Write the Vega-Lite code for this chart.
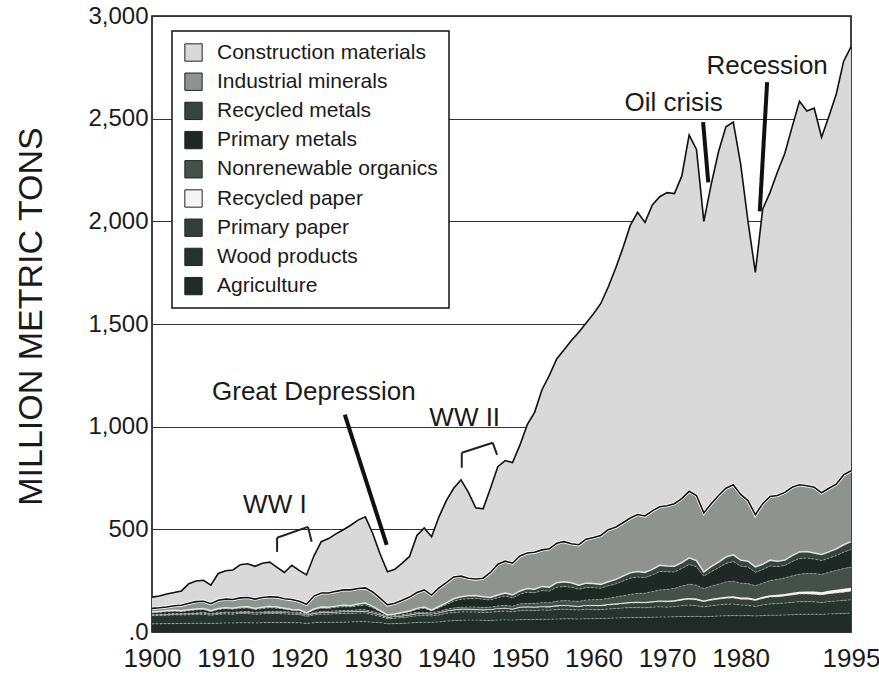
{
"$schema": "https://vega.github.io/schema/vega-lite/v6.json",
"width": 699, "height": 616,
"autosize": {"type": "none"},
"padding": {"left": 152, "top": 16, "right": 28, "bottom": 53},
"background": "white",
"config": {
  "view": {"stroke": "#111", "strokeWidth": 1.6},
  "font": "Liberation Sans",
  "axis": {"labelFont": "Liberation Sans", "labelColor": "#1a1a1a", "titleColor": "#1a1a1a", "ticks": false, "domain": false},
  "legend": {"orient": "none", "legendX": 20, "legendY": 15, "direction": "vertical",
    "fillColor": "white", "strokeColor": "#111", "strokeWidth": 1.5, "padding": 11,
    "labelFont": "Liberation Sans", "labelFontSize": 21, "labelColor": "#1a1a1a", "labelLimit": 400,
    "symbolType": "square", "symbolSize": 300, "symbolStrokeColor": "#222", "symbolStrokeWidth": 1,
    "rowPadding": 6.2, "labelOffset": 13}
},
"datasets": {
  "main": [
    {"year":1900,"ag":40,"wd":40,"pp":3,"rp":1,"no":2,"pm":9,"rm":3,"im":17,"cm":55},
    {"year":1901,"ag":40,"wd":40,"pp":3,"rp":1,"no":2,"pm":10,"rm":4,"im":18,"cm":57},
    {"year":1902,"ag":41,"wd":41,"pp":3,"rp":1,"no":2,"pm":11,"rm":4,"im":19,"cm":63},
    {"year":1903,"ag":41,"wd":42,"pp":4,"rp":1,"no":2,"pm":12,"rm":4,"im":22,"cm":64},
    {"year":1904,"ag":42,"wd":41,"pp":4,"rp":1,"no":2,"pm":10,"rm":4,"im":26,"cm":70},
    {"year":1905,"ag":42,"wd":42,"pp":4,"rp":1,"no":2,"pm":13,"rm":4,"im":32,"cm":95},
    {"year":1906,"ag":43,"wd":43,"pp":4,"rp":1,"no":2,"pm":14,"rm":5,"im":36,"cm":100},
    {"year":1907,"ag":43,"wd":44,"pp":5,"rp":1,"no":3,"pm":13,"rm":5,"im":36,"cm":102},
    {"year":1908,"ag":42,"wd":40,"pp":4,"rp":1,"no":3,"pm":10,"rm":4,"im":34,"cm":90},
    {"year":1909,"ag":43,"wd":43,"pp":5,"rp":1,"no":3,"pm":14,"rm":5,"im":41,"cm":130},
    {"year":1910,"ag":44,"wd":44,"pp":5,"rp":1,"no":3,"pm":16,"rm":5,"im":42,"cm":138},
    {"year":1911,"ag":44,"wd":43,"pp":5,"rp":1,"no":3,"pm":15,"rm":5,"im":42,"cm":144},
    {"year":1912,"ag":45,"wd":45,"pp":5,"rp":1,"no":3,"pm":17,"rm":6,"im":44,"cm":162},
    {"year":1913,"ag":45,"wd":45,"pp":6,"rp":1,"no":3,"pm":17,"rm":6,"im":45,"cm":164},
    {"year":1914,"ag":44,"wd":42,"pp":6,"rp":1,"no":3,"pm":13,"rm":5,"im":46,"cm":160},
    {"year":1915,"ag":45,"wd":43,"pp":6,"rp":1,"no":3,"pm":16,"rm":6,"im":48,"cm":167},
    {"year":1916,"ag":46,"wd":44,"pp":6,"rp":1,"no":4,"pm":17,"rm":6,"im":48,"cm":168},
    {"year":1917,"ag":46,"wd":44,"pp":6,"rp":1,"no":4,"pm":15,"rm":6,"im":48,"cm":145},
    {"year":1918,"ag":46,"wd":42,"pp":6,"rp":1,"no":4,"pm":12,"rm":5,"im":46,"cm":128},
    {"year":1919,"ag":45,"wd":41,"pp":6,"rp":1,"no":4,"pm":9,"rm":4,"im":48,"cm":167},
    {"year":1920,"ag":45,"wd":40,"pp":6,"rp":2,"no":4,"pm":8,"rm":3,"im":42,"cm":150},
    {"year":1921,"ag":42,"wd":34,"pp":5,"rp":2,"no":4,"pm":4,"rm":2,"im":42,"cm":143},
    {"year":1922,"ag":45,"wd":38,"pp":6,"rp":2,"no":4,"pm":12,"rm":5,"im":63,"cm":195},
    {"year":1923,"ag":47,"wd":40,"pp":7,"rp":2,"no":5,"pm":15,"rm":6,"im":68,"cm":250},
    {"year":1924,"ag":47,"wd":40,"pp":7,"rp":2,"no":5,"pm":14,"rm":5,"im":70,"cm":265},
    {"year":1925,"ag":48,"wd":41,"pp":7,"rp":2,"no":5,"pm":17,"rm":6,"im":72,"cm":280},
    {"year":1926,"ag":48,"wd":42,"pp":8,"rp":2,"no":5,"pm":18,"rm":7,"im":75,"cm":293},
    {"year":1927,"ag":49,"wd":41,"pp":8,"rp":2,"no":5,"pm":17,"rm":6,"im":77,"cm":315},
    {"year":1928,"ag":50,"wd":42,"pp":8,"rp":2,"no":6,"pm":20,"rm":8,"im":76,"cm":333},
    {"year":1929,"ag":50,"wd":42,"pp":8,"rp":2,"no":6,"pm":24,"rm":9,"im":74,"cm":346},
    {"year":1930,"ag":48,"wd":36,"pp":8,"rp":2,"no":6,"pm":18,"rm":7,"im":70,"cm":285},
    {"year":1931,"ag":46,"wd":30,"pp":7,"rp":2,"no":5,"pm":10,"rm":4,"im":61,"cm":215},
    {"year":1932,"ag":40,"wd":24,"pp":6,"rp":2,"no":5,"pm":4,"rm":2,"im":49,"cm":161},
    {"year":1933,"ag":41,"wd":26,"pp":7,"rp":2,"no":5,"pm":5,"rm":2,"im":52,"cm":165},
    {"year":1934,"ag":42,"wd":28,"pp":7,"rp":2,"no":5,"pm":8,"rm":3,"im":60,"cm":180},
    {"year":1935,"ag":44,"wd":30,"pp":8,"rp":2,"no":6,"pm":9,"rm":3,"im":68,"cm":198},
    {"year":1936,"ag":46,"wd":33,"pp":9,"rp":2,"no":6,"pm":14,"rm":5,"im":77,"cm":278},
    {"year":1937,"ag":47,"wd":33,"pp":8,"rp":2,"no":6,"pm":19,"rm":7,"im":83,"cm":302},
    {"year":1938,"ag":47,"wd":31,"pp":8,"rp":2,"no":6,"pm":9,"rm":3,"im":74,"cm":284},
    {"year":1939,"ag":49,"wd":34,"pp":9,"rp":2,"no":6,"pm":18,"rm":6,"im":91,"cm":346},
    {"year":1940,"ag":53,"wd":38,"pp":10,"rp":3,"no":7,"pm":23,"rm":8,"im":98,"cm":400},
    {"year":1941,"ag":55,"wd":40,"pp":11,"rp":3,"no":8,"pm":33,"rm":12,"im":106,"cm":432},
    {"year":1942,"ag":57,"wd":41,"pp":11,"rp":4,"no":8,"pm":38,"rm":13,"im":100,"cm":469},
    {"year":1943,"ag":58,"wd":40,"pp":11,"rp":4,"no":9,"pm":40,"rm":14,"im":86,"cm":418},
    {"year":1944,"ag":58,"wd":39,"pp":11,"rp":4,"no":10,"pm":42,"rm":14,"im":80,"cm":347},
    {"year":1945,"ag":57,"wd":38,"pp":11,"rp":3,"no":10,"pm":40,"rm":13,"im":90,"cm":338},
    {"year":1946,"ag":56,"wd":40,"pp":12,"rp":3,"no":10,"pm":35,"rm":12,"im":122,"cm":410},
    {"year":1947,"ag":58,"wd":42,"pp":13,"rp":3,"no":11,"pm":40,"rm":13,"im":150,"cm":475},
    {"year":1948,"ag":59,"wd":43,"pp":13,"rp":3,"no":12,"pm":45,"rm":15,"im":155,"cm":490},
    {"year":1949,"ag":58,"wd":40,"pp":12,"rp":3,"no":12,"pm":41,"rm":14,"im":155,"cm":490},
    {"year":1950,"ag":60,"wd":45,"pp":14,"rp":4,"no":14,"pm":47,"rm":16,"im":170,"cm":540},
    {"year":1951,"ag":61,"wd":45,"pp":14,"rp":4,"no":15,"pm":55,"rm":18,"im":173,"cm":625},
    {"year":1952,"ag":61,"wd":44,"pp":14,"rp":4,"no":16,"pm":52,"rm":17,"im":180,"cm":682},
    {"year":1953,"ag":62,"wd":45,"pp":15,"rp":4,"no":17,"pm":59,"rm":20,"im":178,"cm":780},
    {"year":1954,"ag":62,"wd":44,"pp":15,"rp":4,"no":18,"pm":56,"rm":19,"im":187,"cm":845},
    {"year":1955,"ag":63,"wd":47,"pp":16,"rp":4,"no":20,"pm":68,"rm":22,"im":192,"cm":898},
    {"year":1956,"ag":64,"wd":47,"pp":17,"rp":4,"no":21,"pm":69,"rm":23,"im":195,"cm":935},
    {"year":1957,"ag":64,"wd":45,"pp":16,"rp":4,"no":22,"pm":67,"rm":22,"im":190,"cm":990},
    {"year":1958,"ag":63,"wd":44,"pp":16,"rp":4,"no":22,"pm":59,"rm":20,"im":197,"cm":1035},
    {"year":1959,"ag":65,"wd":46,"pp":17,"rp":4,"no":24,"pm":61,"rm":21,"im":214,"cm":1053},
    {"year":1960,"ag":65,"wd":44,"pp":18,"rp":5,"no":25,"pm":59,"rm":20,"im":224,"cm":1090},
    {"year":1961,"ag":66,"wd":43,"pp":18,"rp":5,"no":26,"pm":55,"rm":19,"im":238,"cm":1130},
    {"year":1962,"ag":67,"wd":45,"pp":19,"rp":5,"no":28,"pm":61,"rm":20,"im":253,"cm":1182},
    {"year":1963,"ag":68,"wd":46,"pp":20,"rp":5,"no":31,"pm":64,"rm":21,"im":255,"cm":1260},
    {"year":1964,"ag":69,"wd":48,"pp":21,"rp":5,"no":34,"pm":71,"rm":24,"im":260,"cm":1338},
    {"year":1965,"ag":70,"wd":49,"pp":22,"rp":5,"no":37,"pm":79,"rm":26,"im":267,"cm":1425},
    {"year":1966,"ag":71,"wd":48,"pp":23,"rp":5,"no":41,"pm":80,"rm":27,"im":277,"cm":1472},
    {"year":1967,"ag":71,"wd":47,"pp":23,"rp":5,"no":43,"pm":76,"rm":25,"im":275,"cm":1430},
    {"year":1968,"ag":72,"wd":49,"pp":24,"rp":5,"no":47,"pm":81,"rm":27,"im":285,"cm":1490},
    {"year":1969,"ag":73,"wd":50,"pp":25,"rp":5,"no":52,"pm":90,"rm":30,"im":285,"cm":1510},
    {"year":1970,"ag":73,"wd":48,"pp":25,"rp":6,"no":55,"pm":86,"rm":29,"im":293,"cm":1525},
    {"year":1971,"ag":74,"wd":50,"pp":25,"rp":6,"no":57,"pm":80,"rm":28,"im":305,"cm":1510},
    {"year":1972,"ag":75,"wd":53,"pp":27,"rp":7,"no":62,"pm":85,"rm":29,"im":312,"cm":1570},
    {"year":1973,"ag":76,"wd":55,"pp":28,"rp":7,"no":67,"pm":96,"rm":32,"im":324,"cm":1735},
    {"year":1974,"ag":76,"wd":52,"pp":28,"rp":7,"no":65,"pm":90,"rm":30,"im":317,"cm":1685},
    {"year":1975,"ag":74,"wd":48,"pp":25,"rp":6,"no":58,"pm":61,"rm":21,"im":287,"cm":1420},
    {"year":1976,"ag":76,"wd":52,"pp":27,"rp":7,"no":62,"pm":70,"rm":24,"im":307,"cm":1555},
    {"year":1977,"ag":78,"wd":54,"pp":28,"rp":7,"no":66,"pm":80,"rm":27,"im":325,"cm":1675},
    {"year":1978,"ag":79,"wd":56,"pp":29,"rp":8,"no":72,"pm":90,"rm":31,"im":335,"cm":1760},
    {"year":1979,"ag":80,"wd":56,"pp":30,"rp":8,"no":74,"pm":95,"rm":33,"im":341,"cm":1766},
    {"year":1980,"ag":79,"wd":52,"pp":29,"rp":8,"no":70,"pm":83,"rm":29,"im":320,"cm":1610},
    {"year":1981,"ag":80,"wd":50,"pp":30,"rp":8,"no":68,"pm":80,"rm":29,"im":295,"cm":1360},
    {"year":1982,"ag":78,"wd":46,"pp":29,"rp":8,"no":64,"pm":66,"rm":26,"im":254,"cm":1180},
    {"year":1983,"ag":80,"wd":52,"pp":31,"rp":9,"no":66,"pm":66,"rm":26,"im":295,"cm":1435},
    {"year":1984,"ag":82,"wd":55,"pp":33,"rp":9,"no":72,"pm":71,"rm":28,"im":310,"cm":1481},
    {"year":1985,"ag":82,"wd":56,"pp":33,"rp":10,"no":75,"pm":63,"rm":26,"im":320,"cm":1575},
    {"year":1986,"ag":83,"wd":58,"pp":34,"rp":10,"no":78,"pm":61,"rm":26,"im":330,"cm":1650},
    {"year":1987,"ag":84,"wd":60,"pp":36,"rp":11,"no":82,"pm":70,"rm":29,"im":333,"cm":1755},
    {"year":1988,"ag":86,"wd":62,"pp":37,"rp":11,"no":86,"pm":76,"rm":32,"im":327,"cm":1868},
    {"year":1989,"ag":86,"wd":62,"pp":37,"rp":12,"no":88,"pm":75,"rm":32,"im":320,"cm":1825},
    {"year":1990,"ag":87,"wd":60,"pp":37,"rp":13,"no":88,"pm":70,"rm":30,"im":320,"cm":1846},
    {"year":1991,"ag":86,"wd":57,"pp":37,"rp":14,"no":86,"pm":68,"rm":30,"im":300,"cm":1732},
    {"year":1992,"ag":88,"wd":60,"pp":38,"rp":15,"no":90,"pm":68,"rm":31,"im":310,"cm":1812},
    {"year":1993,"ag":89,"wd":62,"pp":39,"rp":16,"no":94,"pm":72,"rm":33,"im":315,"cm":1900},
    {"year":1994,"ag":90,"wd":64,"pp":40,"rp":17,"no":98,"pm":80,"rm":36,"im":340,"cm":2015},
    {"year":1995,"ag":92,"wd":65,"pp":41,"rp":18,"no":100,"pm":86,"rm":38,"im":345,"cm":2065}
  ],
  "cats": [
    {"k":"cm","label":"Construction materials","rank":9},
    {"k":"im","label":"Industrial minerals","rank":8},
    {"k":"rm","label":"Recycled metals","rank":7},
    {"k":"pm","label":"Primary metals","rank":6},
    {"k":"no","label":"Nonrenewable organics","rank":5},
    {"k":"rp","label":"Recycled paper","rank":4},
    {"k":"pp","label":"Primary paper","rank":3},
    {"k":"wd","label":"Wood products","rank":2},
    {"k":"ag","label":"Agriculture","rank":1}
  ],
  "notes": [
    {"t":"WW I","year":1916.7,"y1":580},
    {"t":"Great Depression","year":1922.0,"y1":1132},
    {"t":"WW II","year":1942.5,"y1":1005},
    {"t":"Oil crisis","year":1970.9,"y1":2537},
    {"t":"Recession","year":1983.6,"y1":2717}
  ],
  "segs": [
    {"note":"Great Depression","seg":"pointer","year":1926.2,"y1":1059,"year2":1931.9,"v2":424},
    {"note":"Oil crisis","seg":"pointer","year":1974.9,"y1":2483,"year2":1975.6,"v2":2190},
    {"note":"Recession","seg":"pointer","year":1983.6,"y1":2678,"year2":1982.6,"v2":2049},
    {"note":"WW I","seg":"bracket","year":1917.0,"y1":390,"year2":1917.0,"v2":459},
    {"note":"WW I","seg":"bracket","year":1917.0,"y1":459,"year2":1921.2,"v2":512},
    {"note":"WW I","seg":"bracket","year":1921.2,"y1":512,"year2":1921.7,"v2":439},
    {"note":"WW II","seg":"bracket","year":1942.1,"y1":800,"year2":1942.1,"v2":873},
    {"note":"WW II","seg":"bracket","year":1942.1,"y1":873,"year2":1946.3,"v2":922},
    {"note":"WW II","seg":"bracket","year":1946.3,"y1":922,"year2":1946.9,"v2":863}
  ]
},
"encoding": {
  "x": {"field": "year", "type": "quantitative", "scale": {"domain": [1900,1995], "nice": false, "zero": false},
        "axis": {"values": [1900,1910,1920,1930,1940,1950,1960,1970,1980,1995], "format": "d", "labelFontSize": 26, "labelPadding": 13, "grid": false, "title": null, "labelFlush": false, "labelOverlap": false}},
  "y": {"field": "y1", "type": "quantitative", "scale": {"domain": [0,3000], "nice": false},
        "axis": {"values": [0,500,1000,1500,2000,2500,3000], "labelFontSize": 24, "labelPadding": 4, "grid": true, "gridColor": "#333", "gridWidth": 1.2,
                 "labelExpr": "datum.value == 0 ? '.0' : format(datum.value, ',')",
                 "title": "MILLION METRIC TONS", "titleFont": "Liberation Sans", "titleFontSize": 34, "titleFontWeight": "normal",
                 "titleX": -121, "titleY": 300, "titleAngle": -90, "titleAlign": "center", "titleBaseline": "middle"}}
},
"layer": [
  {
    "data": {"name": "main"},
    "transform": [
      {"fold": ["ag","wd","pp","rp","no","pm","rm","im","cm"], "as": ["k","v"]},
      {"lookup": "k", "from": {"data": {"name": "cats"}, "key": "k", "fields": ["label","rank"]}},
      {"stack": "v", "groupby": ["year"], "sort": [{"field": "rank", "order": "ascending"}], "as": ["y0","y1"]}
    ],
    "layer": [
      {
        "mark": {"type": "area", "interpolate": "linear", "strokeWidth": 0},
        "encoding": {
          "y2": {"field": "y0"},
          "color": {"field": "label", "type": "nominal",
                    "scale": {"domain": ["Construction materials","Industrial minerals","Recycled metals","Primary metals","Nonrenewable organics","Recycled paper","Primary paper","Wood products","Agriculture"],
                              "range": ["#d9d9d9","#8f9390","#38443f","#1e2925","#44504a","#f5f5f5","#33403a","#27332e","#1f2b27"]},
                    "legend": {"title": null}}
        }
      },
      {
        "transform": [{"filter": {"field": "rank", "oneOf": [1,2,3,5,6]}}],
        "mark": {"type": "line", "stroke": "#a9b4af", "strokeWidth": 1, "strokeDash": [2,2], "opacity": 0.8},
        "encoding": {"detail": {"field": "label"}}
      },
      {
        "transform": [{"filter": {"field": "rank", "equal": 7}}],
        "mark": {"type": "line", "stroke": "#dfe5e1", "strokeWidth": 1.5},
        "encoding": {}
      },
      {
        "transform": [{"filter": {"field": "rank", "equal": 8}}],
        "mark": {"type": "line", "stroke": "#ffffff", "strokeWidth": 3.2},
        "encoding": {}
      },
      {
        "transform": [{"filter": {"field": "rank", "oneOf": [8,9]}}],
        "mark": {"type": "line", "stroke": "#111", "strokeWidth": 1.6},
        "encoding": {"detail": {"field": "label"}}
      }
    ]
  },
  {
    "data": {"name": "segs"},
    "transform": [{"filter": {"field": "seg", "equal": "pointer"}}],
    "mark": {"type": "rule", "stroke": "#111", "strokeWidth": 4},
    "encoding": {"x2": {"field": "year2"}, "y2": {"field": "v2"}}
  },
  {
    "data": {"name": "segs"},
    "transform": [{"filter": {"field": "seg", "equal": "bracket"}}],
    "mark": {"type": "rule", "stroke": "#222", "strokeWidth": 2},
    "encoding": {"x2": {"field": "year2"}, "y2": {"field": "v2"}}
  },
  {
    "data": {"name": "notes"},
    "mark": {"type": "text", "font": "Liberation Sans", "fontSize": 26, "align": "center", "baseline": "alphabetic", "color": "#1a1a1a"},
    "encoding": {"text": {"field": "t"}}
  }
]
}
